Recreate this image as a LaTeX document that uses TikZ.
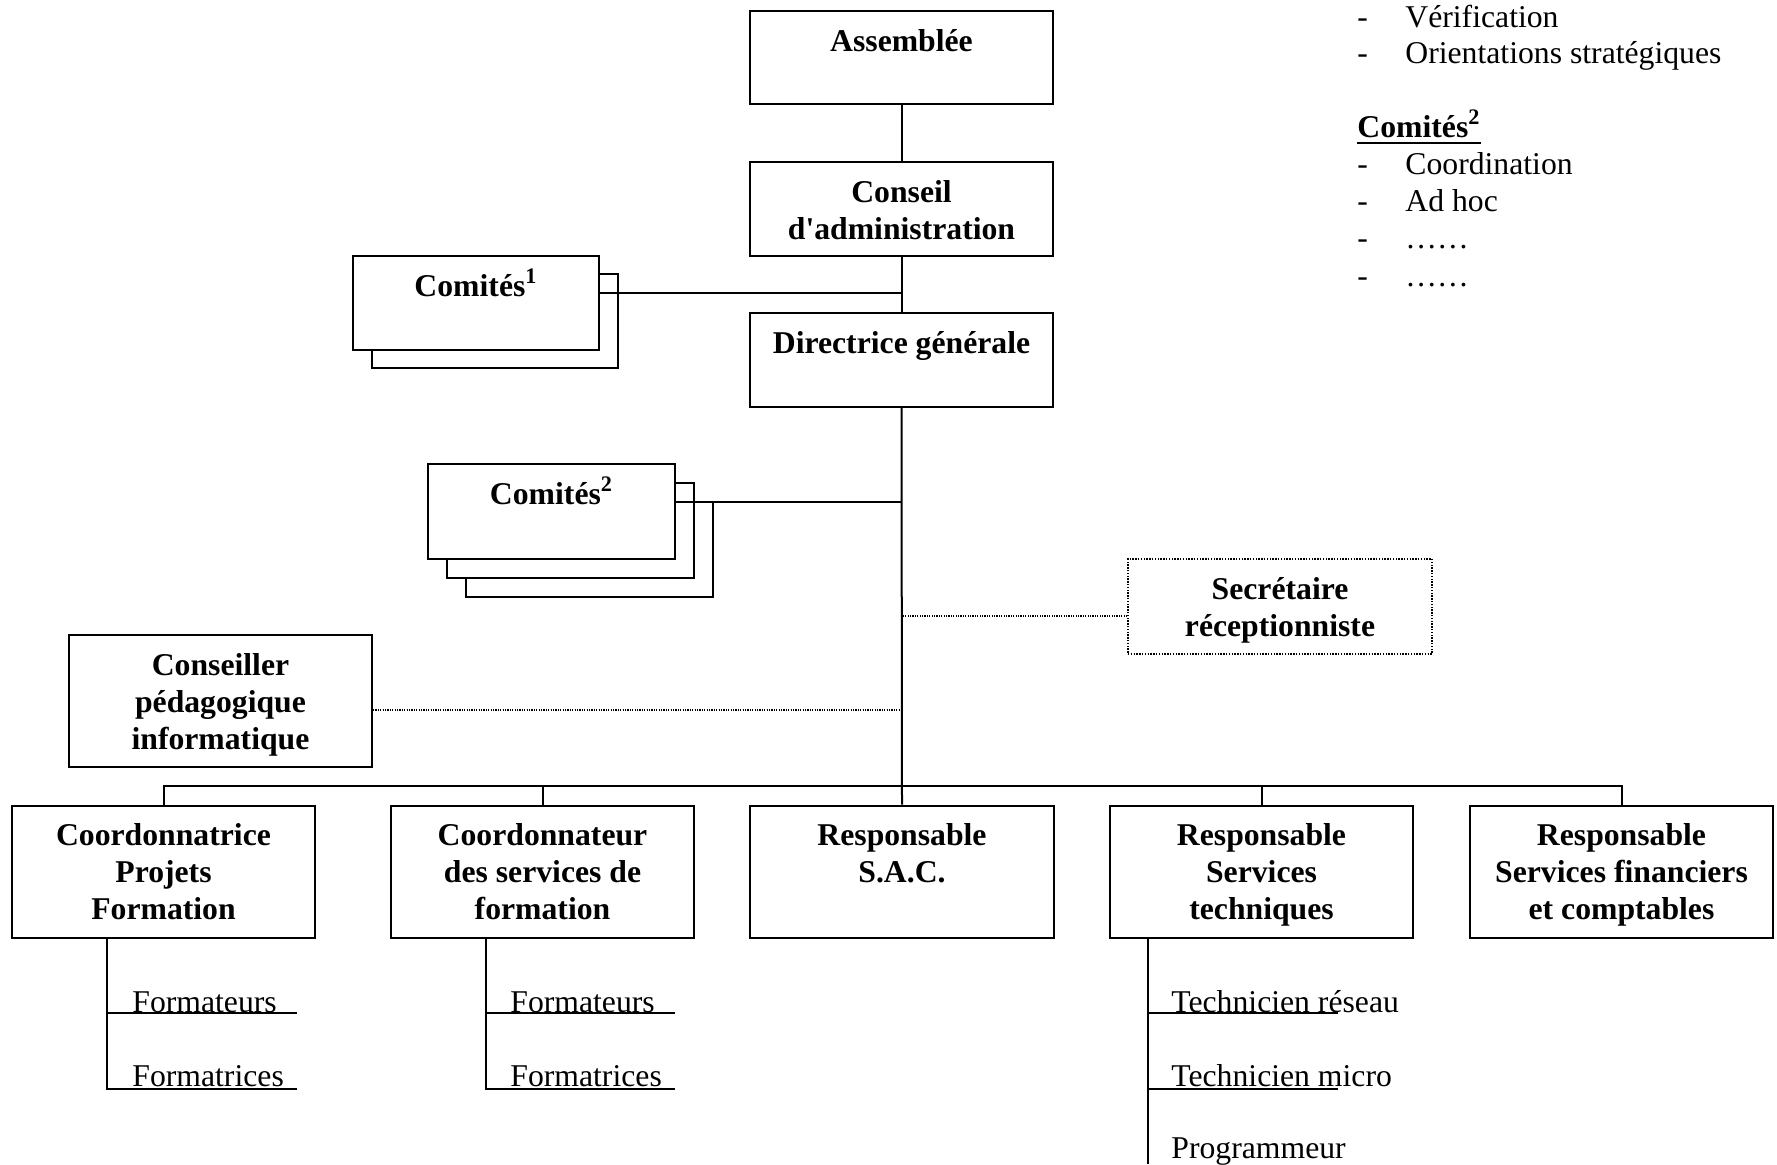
\documentclass[tikz,border=0pt]{standalone}
\usepackage{fontspec}
\setmainfont{Liberation Serif}
\newdimen\pxu \pxu=0.5pt
\newcommand\bxt[3]{\parbox[c][#2\pxu][t]{#1\pxu}{\centering\rule{0pt}{20pt}#3\par}}
\begin{document}
\begin{tikzpicture}[x=0.5pt,y=-0.5pt,
  every node/.style={font=\fontsize{15.85}{18.5}\selectfont},
  box/.style={draw, line width=1pt, inner sep=0pt, fill=white, font=\fontsize{15.85}{18.5}\selectfont\bfseries},
  dotbox/.style={box, dash pattern=on 0.7pt off 0.7pt, line width=0.8pt},
  conn/.style={line width=1pt},
  dotconn/.style={line width=0.6pt, dash pattern=on 0.6pt off 0.6pt},
  item/.style={anchor=base west, inner sep=0pt}]
\useasboundingbox (0,0) rectangle (1777,1164);

% top chain
\node[box] (ass) at (901.5,57.5) {\bxt{303}{93}{Assemblée}};
\node[box] (cons) at (901.5,209) {\bxt{303}{94}{Conseil\\d\textquotesingle administration}};
\node[box] (dir) at (901.5,360) {\bxt{303}{94}{Directrice générale}};

% comites 1
\node[box] (c1b) at (495,321) {\bxt{246}{94}{}};
\node[box] (c1a) at (476,303) {\bxt{246}{94}{Comités\textsuperscript{1}}};

% comites 2
\node[box] (c2c) at (589.5,549.5) {\bxt{247}{95}{}};
\node[box] (c2b) at (570.5,530.5) {\bxt{247}{95}{}};
\node[box] (c2a) at (551.5,511.5) {\bxt{247}{95}{Comités\textsuperscript{2}}};

% staff
\node[dotbox] (sec) at (1280,606.5) {\bxt{304}{95}{Secrétaire\\réceptionniste}};
\node[box] (cp) at (220.5,701) {\bxt{303}{132}{Conseiller\\pédagogique\\informatique}};

% bottom row
\node[box] (b1) at (163.5,871.5) {\bxt{303}{132}{Coordonnatrice\\Projets\\Formation}};
\node[box] (b2) at (542.5,871.5) {\bxt{303}{132}{Coordonnateur\\des services de\\formation}};
\node[box] (b3) at (902,871.5) {\bxt{304}{132}{Responsable\\S.A.C.}};
\node[box] (b4) at (1261.5,871.5) {\bxt{303}{132}{Responsable\\Services\\techniques}};
\node[box] (b5) at (1621.5,871.5) {\bxt{303}{132}{Responsable\\Services financiers\\et comptables}};

% connectors
\draw[conn] (ass.south) -- (cons.north);
\draw[conn] (cons.south) -- (dir.north);
\draw[conn] ([yshift=5pt]c1a.east) -- ([yshift=5pt]c1a.east -| cons.south);
\draw[conn] (dir.south) -- (b3.north);
\draw[conn] ([yshift=4.75pt]c2a.east) -- ([yshift=4.75pt]c2a.east -| dir.south);
\draw[dotconn] ([yshift=-4.75pt]sec.west) -- ([yshift=-4.75pt]sec.west -| dir.south);
\draw[dotconn] ([yshift=-4.5pt]cp.east) -- ([yshift=-4.5pt]cp.east -| dir.south);

\coordinate (busy) at (902,786);
\draw[conn] (b1.north) -- (b1.north |- busy) -- (b5.north |- busy) -- (b5.north);
\draw[conn] (b2.north) -- (b2.north |- busy);
\draw[conn] (b4.north) -- (b4.north |- busy);

% sub lists
\coordinate (f1s) at (107,1013); \coordinate (f1e) at (297,1013);
\coordinate (f2s) at (107,1089); \coordinate (f2e) at (297,1089);
\coordinate (g1s) at (486,1013); \coordinate (g1e) at (675,1013);
\coordinate (g2s) at (486,1089); \coordinate (g2e) at (675,1089);
\coordinate (t1s) at (1148,1013); \coordinate (t1e) at (1338,1013);
\coordinate (t2s) at (1148,1089); \coordinate (t2e) at (1338,1089);
\coordinate (t3s) at (1148,1164);

\node[item] (fa) at (132,1012) {Formateurs};
\node[item] (fb) at (132,1086) {Formatrices};
\node[item] (ga) at (510,1012) {Formateurs};
\node[item] (gb) at (510,1086) {Formatrices};
\node[item] (ta) at (1171,1012) {Technicien réseau};
\node[item] (tb) at (1171,1086) {Technicien micro};
\node[item] (tc) at (1171,1158) {Programmeur};

\draw[conn] (b1.south -| f1s) -- (f2s) -- (f2e);
\draw[conn] (f1s) -- (f1e);
\draw[conn] (b2.south -| g1s) -- (g2s) -- (g2e);
\draw[conn] (g1s) -- (g1e);
\draw[conn] (b4.south -| t1s) -- (t3s);
\draw[conn] (t1s) -- (t1e);
\draw[conn] (t2s) -- (t2e);

% legend
\node[item] (r1) at (1357,27) {\makebox[24pt][l]{-}Vérification};
\node[item] (r2) at (1357,63) {\makebox[24pt][l]{-}Orientations stratégiques};
\node[item, font=\fontsize{15.85}{18.5}\selectfont\bfseries] (hdr) at (1357,137) {Comités\textsuperscript{2}};
\draw[conn] ([yshift=-3pt]hdr.base west) -- ([yshift=-3pt]hdr.base east);
\node[item] (r3) at (1357,174) {\makebox[24pt][l]{-}Coordination};
\node[item] (r4) at (1357,211) {\makebox[24pt][l]{-}Ad hoc};
\node[item] (r5) at (1357,248) {\makebox[24pt][l]{-}……};
\node[item] (r6) at (1357,286) {\makebox[24pt][l]{-}……};
\end{tikzpicture}
\end{document}
